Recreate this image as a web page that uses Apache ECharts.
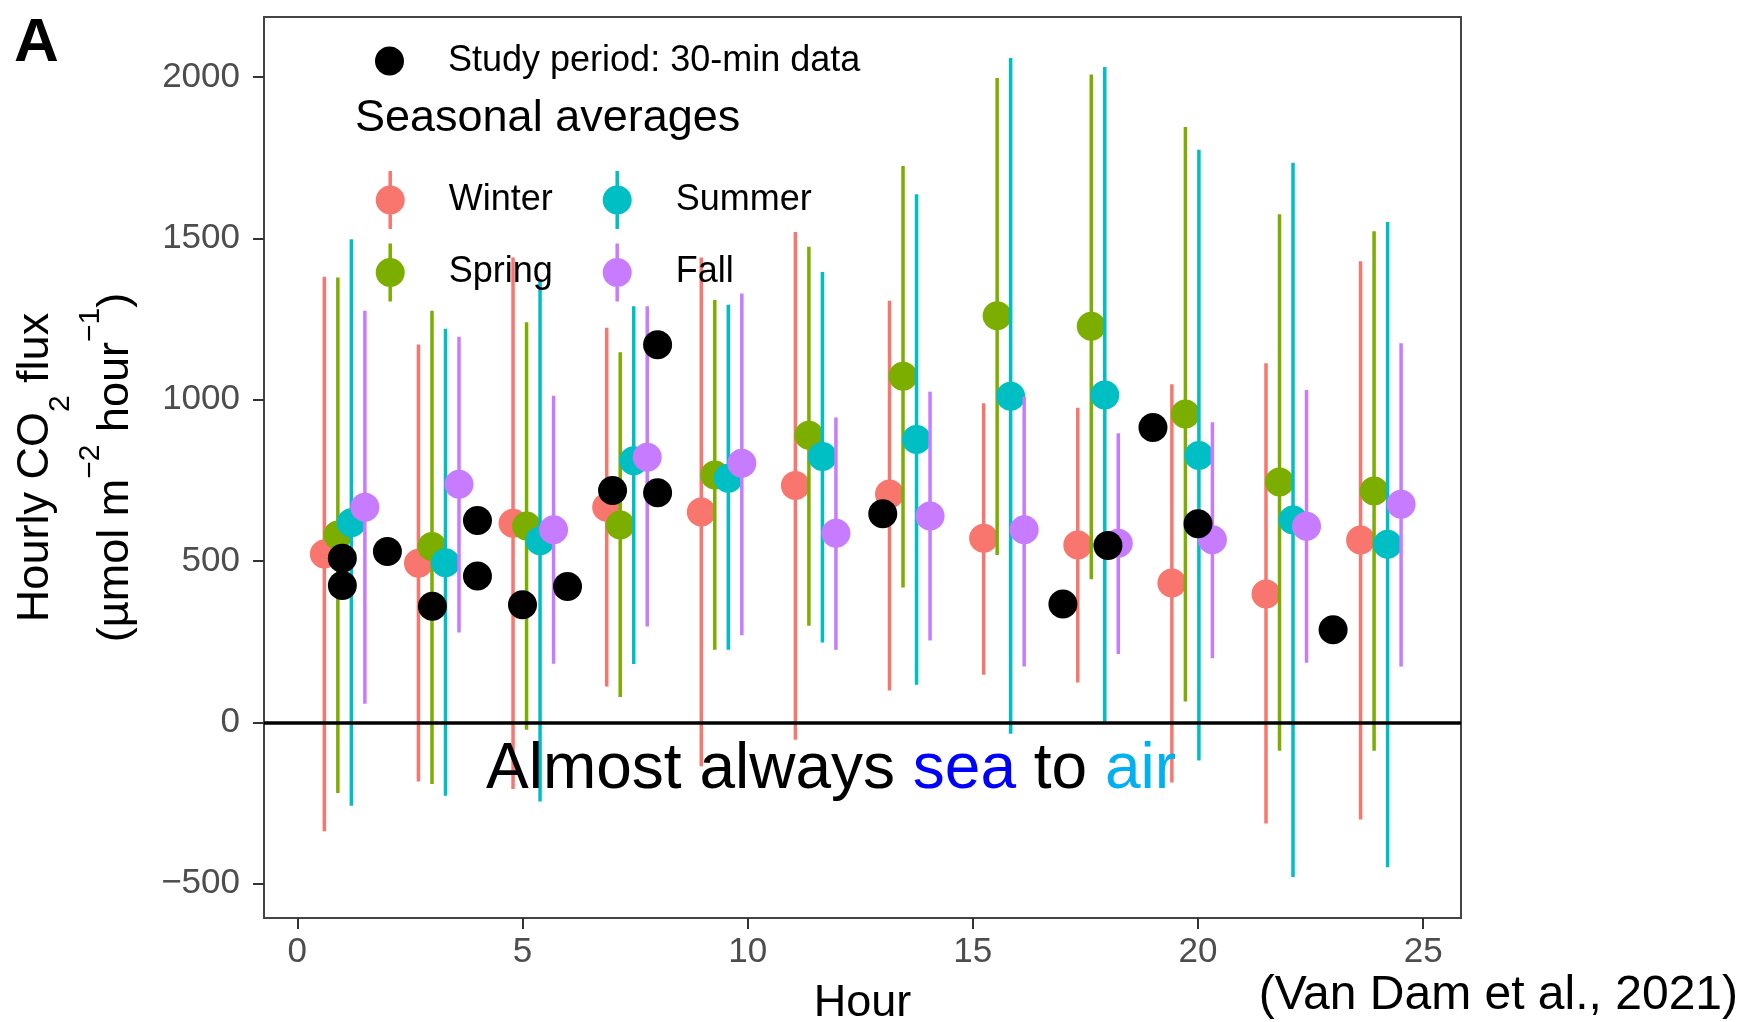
<!DOCTYPE html>
<html>
<head>
<meta charset="utf-8">
<title>Hourly CO2 flux</title>
<script src="https://cdn.jsdelivr.net/npm/echarts@6.0.0/dist/echarts.min.js"></script>
<style>
  html, body { margin: 0; padding: 0; background: #fff; }
  #main { width: 1744px; height: 1022px; }
</style>
</head>
<body>
<div id="main"></div>
<script>
// hour bins for the seasonal averages (dodged per season when drawn)
var hourBins = [1.05, 3.14, 5.24, 7.32, 9.42, 11.51, 13.6, 15.69, 17.78, 19.87, 21.96, 24.06];

var winterMean = [522, 493, 617, 667, 652, 734, 708, 571, 550, 432, 398, 565];
var winterLow  = [-337, -183, -206, 111, -136, -54, 99, 148, 124, -186, -313, -301];
var winterHigh = [1381, 1171, 1441, 1223, 1441, 1520, 1307, 989, 975, 1048, 1113, 1429];

var springMean = [581, 545, 609, 612, 767, 890, 1073, 1260, 1228, 956, 745, 717];
var springLow  = [-219, -191, -23, 79, 225, 300, 418, 519, 444, 65, -88, -88];
var springHigh = [1379, 1276, 1240, 1147, 1309, 1474, 1724, 1997, 2008, 1845, 1575, 1522];

var summerMean = [619, 495, 563, 811, 757, 824, 877, 1011, 1015, 827, 627, 552];
var summerLow  = [-258, -227, -245, 181, 225, 248, 117, -35, 3, -118, -479, -449];
var summerHigh = [1497, 1220, 1365, 1290, 1294, 1396, 1637, 2059, 2031, 1775, 1734, 1551];

var fallMean = [667, 738, 597, 822, 803, 586, 640, 597, 555, 566, 608, 676];
var fallLow  = [58, 279, 182, 297, 270, 225, 254, 173, 212, 199, 185, 173];
var fallHigh = [1276, 1195, 1012, 1290, 1329, 945, 1025, 1009, 896, 930, 1030, 1175];

// study period 30-min data
var studyHours  = [1, 1, 2, 3, 4, 4, 5, 6, 7, 8, 8, 13, 17, 18, 19, 20, 23];
var studyValues = [509, 424, 530, 360, 626, 454, 365, 421, 719, 712, 1170, 647, 367, 548, 914, 616, 287];

var xTicks = [0, 5, 10, 15, 20, 25];
var yTicks = [-500, 0, 500, 1000, 1500, 2000];

var FONT = '"Liberation Sans", Arial, Helvetica, sans-serif';
var seasonColors = ['#F8766D', '#7CAE00', '#00BFC4', '#C77CFF'];
var dodge = [-0.45, -0.15, 0.15, 0.45];

var legendIcon = 'path://M12.75,0L16.25,0L16.25,58L12.75,58ZM14.5,14.5A14.5,14.5,0,1,1,14.5,43.5A14.5,14.5,0,1,1,14.5,14.5Z';

function buildRows(k, mean, low, high) {
  return hourBins.map(function (h, i) {
    return [h + dodge[k], low[i], high[i], mean[i]];
  });
}

function renderRange(params, api) {
  var x = api.value(0);
  var top = api.coord([x, api.value(2)]);
  var bot = api.coord([x, api.value(1)]);
  var mid = api.coord([x, api.value(3)]);
  var color = api.visual('color');
  return {
    type: 'group',
    children: [
      { type: 'line', shape: { x1: top[0], y1: top[1], x2: bot[0], y2: bot[1] },
        style: { stroke: color, lineWidth: 3.5 } },
      { type: 'circle', shape: { cx: mid[0], cy: mid[1], r: 14.5 },
        style: { fill: color } }
    ]
  };
}

function seasonSeries(name, k, mean, low, high) {
  return {
    name: name,
    type: 'custom',
    renderItem: renderRange,
    itemStyle: { color: seasonColors[k] },
    encode: { x: 0, y: [1, 2, 3] },
    data: buildRows(k, mean, low, high),
    silent: true
  };
}

var legendText = { fontSize: 36, color: '#000', fontFamily: FONT, padding: [0, 0, 0, 39] };

var chart = echarts.init(document.getElementById('main'));
chart.setOption({
  animation: false,
  backgroundColor: '#fff',
  title: [
    { text: 'A', left: 14, top: 13, padding: 0,
      textStyle: { fontSize: 62, fontWeight: 'bold', color: '#000', fontFamily: FONT } },
    { text: 'Seasonal averages', left: 355, top: 96, padding: 0,
      textStyle: { fontSize: 45, fontWeight: 'normal', color: '#000', fontFamily: FONT } },
    { text: '{k|Almost always }{s|sea}{k| to }{a|air}', left: 486, top: 738, padding: 0,
      textStyle: {
        fontWeight: 'normal',
        rich: {
          k: { fontSize: 64, fontWeight: 'normal', color: '#000', fontFamily: FONT },
          s: { fontSize: 64, fontWeight: 'normal', color: '#0000FF', fontFamily: FONT },
          a: { fontSize: 64, fontWeight: 'normal', color: '#00B0F0', fontFamily: FONT }
        }
      } },
    { text: '(Van Dam et al., 2021)', right: 6, top: 972, padding: 0,
      textStyle: { fontSize: 48, fontWeight: 'normal', color: '#000', fontFamily: FONT } }
  ],
  legend: [
    { data: ['Study period: 30-min data'], left: 375, top: 43, padding: 0, orient: 'vertical',
      icon: 'circle', itemWidth: 29, itemHeight: 29, selectedMode: false, textStyle: legendText },
    { data: ['Winter', 'Spring'], left: 375.7, top: 171, padding: 0, orient: 'vertical',
      icon: legendIcon, itemWidth: 29, itemHeight: 58, itemGap: 14.5, selectedMode: false,
      textStyle: legendText },
    { data: ['Summer', 'Fall'], left: 602.7, top: 171, padding: 0, orient: 'vertical',
      icon: legendIcon, itemWidth: 29, itemHeight: 58, itemGap: 14.5, selectedMode: false,
      textStyle: legendText }
  ],
  grid: {
    left: 264, right: 283, top: 17, bottom: 104,
    outerBoundsMode: 'none',
    show: true, borderColor: '#444', borderWidth: 2, backgroundColor: 'transparent'
  },
  xAxis: {
    type: 'value',
    min: -0.74, max: 25.84,
    name: 'Hour', nameLocation: 'middle', nameGap: 63,
    nameTextStyle: { fontSize: 45, color: '#000', fontFamily: FONT },
    axisLine: { show: false, onZero: false },
    axisTick: { show: true, length: 11, customValues: xTicks, lineStyle: { color: '#333', width: 2 } },
    axisLabel: { customValues: xTicks, margin: 17, fontSize: 35, color: '#4D4D4D', fontFamily: FONT },
    splitLine: { show: false }
  },
  yAxis: {
    type: 'value',
    min: -606, max: 2186,
    name: '{t|Hourly CO}{sub|2}{t| flux}\n{t|(\u00B5mol m}{sup|\u22122}{t| hour}{sup|\u22121}{t|)}',
    nameLocation: 'middle', nameGap: 108,
    nameTextStyle: {
      color: '#000', fontFamily: FONT,
      rich: {
        t: { fontSize: 45, lineHeight: 80, color: '#000', fontFamily: FONT },
        sub: { fontSize: 30, lineHeight: 54, verticalAlign: 'bottom', color: '#000', fontFamily: FONT },
        sup: { fontSize: 30, lineHeight: 50, verticalAlign: 'top', color: '#000', fontFamily: FONT }
      }
    },
    axisLine: { show: false, onZero: false },
    axisTick: { show: true, length: 11, customValues: yTicks, lineStyle: { color: '#333', width: 2 } },
    axisLabel: {
      customValues: yTicks, margin: 24, fontSize: 35, color: '#4D4D4D', fontFamily: FONT,
      formatter: function (v) { return String(v).replace('-', '\u2212'); }
    },
    splitLine: { show: false }
  },
  series: [
    seasonSeries('Winter', 0, winterMean, winterLow, winterHigh),
    seasonSeries('Spring', 1, springMean, springLow, springHigh),
    seasonSeries('Summer', 2, summerMean, summerLow, summerHigh),
    seasonSeries('Fall', 3, fallMean, fallLow, fallHigh),
    {
      name: 'Study period: 30-min data',
      type: 'scatter',
      symbolSize: 29,
      itemStyle: { color: '#000', opacity: 1 },
      emphasis: { disabled: true },
      data: studyHours.map(function (h, i) { return [h, studyValues[i]]; }),
      markLine: {
        silent: true,
        symbol: 'none',
        label: { show: false },
        lineStyle: { color: '#000', width: 3.5, type: 'solid' },
        data: [{ yAxis: 0 }]
      }
    }
  ]
});
</script>
</body>
</html>
